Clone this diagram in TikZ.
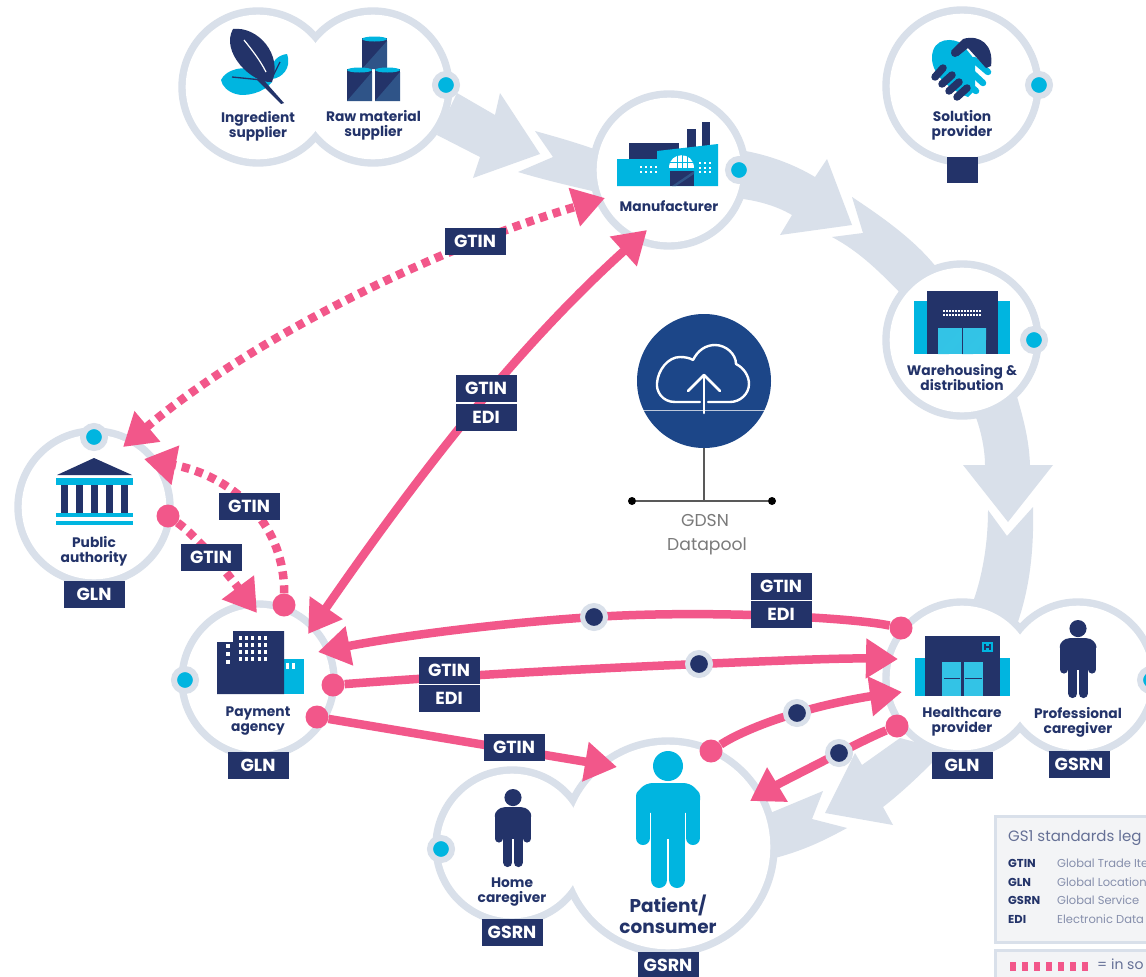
\documentclass[tikz,border=0pt]{standalone}
\usepackage{fontspec}
\setmainfont{Poppins}
\usetikzlibrary{arrows.meta}
\definecolor{navy}{HTML}{233369}
\definecolor{cyanx}{HTML}{00B5E0}
\definecolor{cyanl}{HTML}{33C3E6}
\definecolor{pinkx}{HTML}{F2578A}
\definecolor{grayx}{HTML}{D9E0EA}
\definecolor{steel}{HTML}{2F5488}
\definecolor{cloudb}{HTML}{1C4688}
\definecolor{legfill}{HTML}{F3F4F6}
\tikzset{
  hub/.style={circle,minimum size=152pt,inner sep=0pt,outer sep=0pt},
  lab/.style={align=center,text=navy,inner sep=0pt,font=\fontsize{13.8}{15}\selectfont\bfseries},
  tag/.style={fill=navy,text=white,minimum width=61pt,minimum height=27pt,inner sep=0pt,font=\fontsize{17.5}{17.5}\selectfont\bfseries},
  pinkline/.style={draw=pinkx,line width=8.5pt},
  dashline/.style={draw=pinkx,line width=8.5pt,dash pattern=on 8pt off 6pt},
  tipend/.style={-{Triangle[length=32pt,width=38pt]}},
  tipboth/.style={{Triangle[length=32pt,width=38pt]}-{Triangle[length=32pt,width=38pt]}},
  pinkdot/.style={circle,fill=pinkx,minimum size=23pt,inner sep=0pt},
  busdot/.style={circle,fill=navy,draw=grayx,line width=5pt,minimum size=23pt,inner sep=0pt},
  portdot/.style={circle,fill=cyanx,draw=grayx,line width=6pt,minimum size=22pt,inner sep=0pt},
  codetxt/.style={anchor=west,text=navy,inner sep=0pt,font=\fontsize{11.5}{12}\selectfont\bfseries},
  desctxt/.style={anchor=west,text=navy!55,inner sep=0pt,font=\fontsize{11.5}{12}\selectfont},
}
\newcommand{\personfig}[4]{%
  \begin{scope}[shift={(#1,#2)},scale=#3]
    \fill[#4] (0,15) circle (15);
    \fill[#4,rounded corners=#3*17pt] (-32,62)--(-32,32)--(32,32)--(32,62)--cycle;
    \fill[#4] (-17,45) rectangle (17,88);
    \draw[#4,line width=#3*14pt,line cap=round] (-25,45)--(-25,87);
    \draw[#4,line width=#3*14pt,line cap=round] (25,45)--(25,87);
    \draw[#4,line width=#3*16pt,line cap=round] (-9,85)--(-9,129);
    \draw[#4,line width=#3*16pt,line cap=round] (9,85)--(9,129);
  \end{scope}}
\newcommand{\drumfig}[4]{%
  \fill[navy] (#1,#2) rectangle (#1+#3,#2+#4);
  \fill[steel] (#1+#3,#2+3) -- (#1+#3,#2+#4) -- (#1,#2+#4) -- cycle;
  \fill[cyanx] (#1+#3/2,#2+1) ellipse ({#3/2} and 2.5);}
\begin{document}
\begin{tikzpicture}[x=1pt,y=-1pt]
\useasboundingbox (0,0) rectangle (1146,977);
\clip (0,0) rectangle (1146,977);
\fill[white] (0,0) rectangle (1146,977);

% ---- big grey flow arrows
\fill[grayx] (457,93) -- (495,115) -- (500,93) -- (540,154) -- (473,178) -- (480,157) -- (437,135) -- cycle;
\fill[grayx] (535,131) -- (553,157) -- (518,172) .. controls (545,180) and (570,186) .. (610,195) -- (610,155) .. controls (585,145) and (560,138) .. cycle;
\fill[grayx] (740,150) .. controls (770,155) and (795,165) .. (815,177) -- (827,159) -- (852,225) -- (780,235) -- (792,215) .. controls (775,205) and (755,200) .. (735,198) -- cycle;
\fill[grayx] (852,197) -- (863,233) -- (832,237) .. controls (860,252) and (880,272) .. (905,298) -- (940,272) .. controls (920,245) and (890,222) .. cycle;
\fill[grayx] (970,400) -- (1015,390) .. controls (1024,420) and (1029,440) .. (1030,465) -- (1053,465) -- (1008,522) -- (963,465) -- (985,465) .. controls (985,450) and (981,430) .. (975,415) -- cycle;
\fill[grayx] (988,510) -- (1007,536) -- (1033,507) .. controls (1034,550) and (1030,590) .. (1015,630) -- (970,610) .. controls (982,580) and (988,545) .. cycle;
\fill[grayx] (855,753) -- (862,765) -- (900,738) -- (945,750) .. controls (925,770) and (905,790) .. (883,807) -- (893,825) -- (825,813) -- cycle;
\fill[grayx] (823,791) -- (812,819) -- (847,828) .. controls (825,840) and (805,850) .. (775,858) -- (765,815) -- (775,811) -- cycle;

% ---- rings (merged outlines)
\foreach \cx/\cy/\rr in {258/87/76,373/87/76,669/170/76,962/86/76,962/340/76,94/507/76,258/680/76,962/678/76,1078/678/76,512/846/76,668/847/106}{
  \fill[grayx] (\cx,\cy) circle ({\rr+3.7});
}
\foreach \cx/\cy/\rr in {258/87/76,373/87/76,669/170/76,962/86/76,962/340/76,94/507/76,258/680/76,962/678/76,1078/678/76,512/846/76,668/847/106}{
  \fill[white] (\cx,\cy) circle ({\rr-3.7});
}
\node[hub] (ing) at (258,87) {};
\node[hub] (raw) at (373,87) {};
\node[hub] (man) at (669,170) {};
\node[hub] (sol) at (962,86) {};
\node[hub] (war) at (962,340) {};
\node[hub] (pub) at (94,507) {};
\node[hub] (pay) at (258,680) {};
\node[hub] (hea) at (962,678) {};
\node[hub] (pro) at (1078,678) {};
\node[hub] (hom) at (512,846) {};
\node[hub,minimum size=212pt] (pat) at (668,847) {};

% ---- cyan ports
\node[portdot] (p1) at (446,85) {};
\node[portdot] (p2) at (739,170) {};
\node[portdot] (p3) at (1039,85) {};
\node[portdot] (p4) at (1034,340) {};
\node[portdot] (p5) at (94,437) {};
\node[portdot] (p6) at (185,680) {};
\node[portdot] (p7) at (1151,680) {};
\node[portdot] (p8) at (441,849) {};

% ---- leaf icon
\fill[cyanx] (221,80) .. controls (226,69) and (245,65) .. (255,71) -- (272,82) .. controls (264,93) and (245,97) .. (236,94) .. controls (228,92) and (222,86) .. (221,80) -- cycle;
\fill[cyanx] (287,54) .. controls (278,55) and (270,62) .. (273,72) -- (272,79) .. controls (282,78) and (292,68) .. (287,54) -- cycle;
\fill[navy] (233,29) .. controls (258,26) and (283,55) .. (272,82) .. controls (252,84) and (220,52) .. (233,29) -- cycle;
\fill[navy] (260,76) -- (284,103) -- (281,104) -- (257,80) -- cycle;
\draw[navy,line width=1.3pt] (232,77) -- (262,80);
\draw[navy,line width=1.3pt] (272,78) -- (280,62);
\draw[white,line width=1.2pt] (244,40) .. controls (252,50) and (260,60) .. (266,72);

% ---- drums
\drumfig{362}{38}{25}{31}
\drumfig{347}{69}{25}{32}
\drumfig{375}{69}{25}{32}

% ---- factory
\fill[navy] (629,143) rectangle (679,162);
\fill[navy] (687,129) rectangle (696,150);
\fill[navy] (702,122) rectangle (710,150);
\fill[cyanx] (617,159) -- (657,159) -- (657,151) -- (718,144) -- (718,186) -- (617,186) -- cycle;
\fill[navy] (670,171) rectangle (694,186);
\fill[steel] (694,171) -- (694,174) -- (676,186) -- (672,186) -- cycle;
\fill[white] (669,168) .. controls (669,151) and (694,151) .. (694,168) -- cycle;
\draw[cyanx,line width=.8pt] (669,162)--(694,162) (677,155)--(677,168) (682,155)--(682,168) (687,155)--(687,168);
\foreach \wx in {641,646,651,656} \foreach \wy in {167,172} \fill[white] (\wx-1,\wy-1) rectangle (\wx+1,\wy+1);
\foreach \wx in {700,705,710} \foreach \wy in {163,168,172} \fill[white] (\wx-1,\wy-1) rectangle (\wx+1,\wy+1);

% ---- handshake
\fill[cyanx] (962,44) .. controls (955,38) and (932,36) .. (932,58) .. controls (932,75) and (950,90) .. (968,97) -- (975,90) -- (975,60) -- cycle;
\draw[cyanx,line width=6.5pt,line cap=round] (974,60) -- (988,72);
\draw[cyanx,line width=6.5pt,line cap=round] (969,70) -- (983,83);
\draw[cyanx,line width=6.5pt,line cap=round] (963,80) -- (976,91);
\fill[navy] (963,39) .. controls (980,34) and (994,45) .. (991,66) -- (986,68) -- (968,48) -- (958,56) -- (951,51) -- cycle;
\draw[navy,line width=8pt,line cap=round] (955,53) -- (964,44);
\draw[navy,line width=7.5pt,line cap=round] (935,77) -- (943,68);
\draw[navy,line width=7.5pt,line cap=round] (942,84) -- (952,75);
\draw[navy,line width=7.5pt,line cap=round] (949,91) -- (959,82);
\draw[navy,line width=7.5pt,line cap=round] (957,97) -- (967,88);

% ---- warehouse
\fill[cyanx] (914,301) rectangle (1010,354);
\fill[navy] (927,291) rectangle (998,354);
\fill[cyanl] (938,328) rectangle (986,354);
\fill[cyanx!80!white] (938,354) -- (962,328) -- (962,340) -- (949,354) -- cycle;
\fill[cyanx!80!white] (962,354) -- (986,328) -- (986,340) -- (973,354) -- cycle;
\draw[navy,line width=.5pt] (962,328) -- (962,354);
\foreach \wx in {944,947,...,980} \foreach \wy in {311,315} \fill[white] (\wx-1,\wy-1) rectangle (\wx+1,\wy+1);

% ---- temple
\fill[navy] (57,475) -- (94,458) -- (132,475) -- cycle;
\fill[cyanx] (56,478) rectangle (133,485);
\foreach \cxa in {61,76,91,106,121} \fill[navy] (\cxa,485) rectangle (\cxa+7,513);
\fill[cyanx] (56,513) rectangle (133,517);
\fill[cyanx] (56,521) rectangle (133,525);

% ---- office building
\fill[cyanx] (284,659) rectangle (304,694);
\fill[navy] (217,642) -- (233,642) -- (233,631) -- (284,631) -- (284,694) -- (217,694) -- cycle;
\foreach \wx in {240,246,252,259,265} \foreach \wy in {638,645,652,659} \fill[white] (\wx-1.5,\wy-2.2) rectangle (\wx+1.5,\wy+2.2);
\foreach \wy in {646,654,662} \fill[white] (226,\wy-2.2) rectangle (230,\wy+2.2);
\fill[white] (286,663) rectangle (289,669);
\fill[white] (292,663) rectangle (295,669);

% ---- hospital
\fill[cyanx] (915,658) rectangle (1010,696);
\fill[navy] (925,636) rectangle (1000,696);
\fill[cyanl] (942,662) rectangle (961,696);
\fill[cyanl] (964,662) rectangle (983,696);
\draw[navy,line width=.7pt] (944,678) -- (960,678) (965,678) -- (982,678);
\fill[cyanx] (982,642) rectangle (993,652);
\draw[navy,line width=1.2pt] (985,644) -- (985,650) (990,644) -- (990,650) (985,647) -- (990,647);

% ---- people
\personfig{668}{751}{1}{cyanx}
\personfig{513}{789}{0.57}{navy}
\personfig{1078}{620}{0.57}{navy}

% ---- GDSN
\node[circle,fill=cloudb,minimum size=134pt,inner sep=0pt] (gd) at (704,381) {};
\draw[white,line width=2.4pt,line cap=round,line join=round] (700,402) -- (675,402) .. controls (662,402) and (656,391) .. (657,383) .. controls (658,370) and (668,357) .. (680,357) .. controls (685,357) and (690,358) .. (693,360) .. controls (698,350) and (706,345) .. (715,345) .. controls (726,345) and (736,354) .. (736,364) .. controls (744,368) and (749,376) .. (749,384) .. controls (749,394) and (740,402) .. (730,402) -- (708,402);
\draw[white,line width=2.6pt,line cap=round,line join=round] (704,413) -- (704,375);
\draw[white,line width=2.6pt,line cap=round,line join=round] (688,391) -- (704,375) -- (720,391);
\draw[white,line width=.5pt,opacity=.7] (643,410) -- (765,410);
\node[circle,fill=black,minimum size=8pt,inner sep=0pt] (gl) at (632,501) {};
\node[circle,fill=black,minimum size=8pt,inner sep=0pt] (gr) at (772,501) {};
\coordinate (gm) at (704,501);
\draw[black!65,line width=1.5pt] (gl) -- (gr);
\draw[black!65,line width=1.2pt] (gd) -- (gm);
\node[text=black!52,inner sep=0pt,font=\fontsize{17.2}{18}\selectfont] (gt1) at (705,520) {GDSN};
\node[text=black!52,inner sep=0pt,font=\fontsize{17.2}{18}\selectfont] (gt2) at (707,546) {Datapool};

% ---- connector ends
\coordinate (tManE) at (605,198);
\coordinate (tManS) at (647,230);
\coordinate (tPubA) at (123,447);
\coordinate (tPubB) at (144,459);
\coordinate (tPayN) at (308,634);
\coordinate (tPayE) at (318,652);
\coordinate (tPayT) at (257,613);
\coordinate (tHeaA) at (898,659);
\coordinate (tHeaB) at (902,692);
\coordinate (tPatA) at (617,767);
\coordinate (tPatB) at (750,801);
\coordinate (mA) at (594,617);
\coordinate (mB) at (699,664);
\coordinate (mD) at (797,713);
\coordinate (mE) at (839,753);

\node[pinkdot] (dPayN) at (284,605) {};
\node[pinkdot] (dPub) at (168,516) {};
\node[pinkdot] (dHeaT) at (901,628) {};
\node[pinkdot] (dPayM) at (333,685) {};
\node[pinkdot] (dPayL) at (317,717) {};
\node[pinkdot] (dPat) at (711,751) {};
\node[pinkdot] (dHeaL) at (897,726) {};

\draw[dashline,tipboth] (tPubA) .. controls (250,340) and (430,250) .. (tManE);
\draw[pinkline,tipboth] (tManS) .. controls (520,345) and (425,465) .. (tPayN);
\draw[dashline,tipend] (dPayN) .. controls (285,530) and (240,478) .. (tPubB);
\draw[dashline,tipend] (dPub) .. controls (195,535) and (225,570) .. (tPayT);
\draw[pinkline,tipend] (dHeaT) .. controls (850,617) and (700,610) .. (mA) .. controls (500,623) and (400,636) .. (tPayE);
\draw[pinkline,tipend] (dPayM) .. controls (450,676) and (600,668) .. (mB) .. controls (770,661) and (840,658) .. (tHeaA);
\draw[pinkline,tipend] (dPayL) -- (tPatA);
\draw[pinkline,tipend] (dPat) .. controls (735,735) and (765,722) .. (mD) .. controls (830,703) and (865,697) .. (tHeaB);
\draw[pinkline,tipend] (dHeaL) .. controls (875,735) and (855,745) .. (mE) .. controls (810,768) and (780,783) .. (tPatB);
\node[busdot] (bA) at (mA) {};
\node[busdot] (bB) at (mB) {};
\node[busdot] (bD) at (mD) {};
\node[busdot] (bE) at (mE) {};

% ---- tags
\node[tag] (t1) at (475,241) {GTIN};
\node[tag] (t2) at (486,388) {GTIN};
\node[tag] (t3) at (486,417) {EDI};
\node[tag] (t4) at (249,506.5) {GTIN};
\node[tag] (t5) at (211,557) {GTIN};
\node[tag] (t6) at (94,594) {GLN};
\node[tag] (t7) at (258,765) {GLN};
\node[tag] (t8) at (781,586) {GTIN};
\node[tag] (t9) at (781,614) {EDI};
\node[tag] (t10) at (449,670) {GTIN};
\node[tag] (t11) at (449,698) {EDI};
\node[tag] (t12) at (514,747) {GTIN};
\node[tag] (t13) at (962,765) {GLN};
\node[tag] (t14) at (1079,764) {GSRN};
\node[tag] (t15) at (512,932) {GSRN};
\node[tag] (t16) at (668,965) {GSRN};
\node[fill=navy,minimum width=31pt,minimum height=26pt,inner sep=0pt] (t17) at (962.5,170) {};

% ---- labels
\node[lab] (l1) at (258,126) {Ingredient\\supplier};
\node[lab] (l2) at (373.5,125) {Raw material\\supplier};
\node[lab] (l3) at (669,206) {Manufacturer};
\node[lab] (l4) at (962,125) {Solution\\provider};
\node[lab] (l5) at (962,378) {Warehousing \&\\distribution};
\node[lab] (l6) at (94,551.5) {Public\\authority};
\node[lab] (l7) at (258,721.5) {Payment\\agency};
\node[lab] (l8) at (962,722) {Healthcare\\provider};
\node[lab] (l9) at (1078,722.5) {Professional\\caregiver};
\node[lab] (l10) at (512,892) {Home\\caregiver};
\node[lab,font=\fontsize{18.5}{21}\selectfont\bfseries] (l11) at (668,914.5) {Patient/\\consumer};

% ---- legend
\draw[fill=legfill,draw=grayx,line width=3pt] (995,816) rectangle (1160,942);
\draw[fill=legfill,draw=grayx,line width=3pt] (995,950) rectangle (1160,990);
\node[anchor=west,text=navy!70,inner sep=0pt,font=\fontsize{15}{16}\selectfont] (lt) at (1008,838) {GS1 standards leg};
\node[codetxt] (c1) at (1008,863) {GTIN};
\node[codetxt] (c2) at (1008,882) {GLN};
\node[codetxt] (c3) at (1008,900) {GSRN};
\node[codetxt] (c4) at (1008,919) {EDI};
\node[desctxt] (e1) at (1057,863) {Global Trade Ite};
\node[desctxt] (e2) at (1057,882) {Global Location};
\node[desctxt] (e3) at (1057,900) {Global Service};
\node[desctxt] (e4) at (1057,919) {Electronic Data};
\foreach \dx in {1010,1022,1034,1046,1058,1070,1082} \fill[pinkx] (\dx,961.5) rectangle (\dx+6,971);
\node[anchor=west,text=navy!70,inner sep=0pt,font=\fontsize{14}{15}\selectfont] (lg) at (1097,964) {= in so};
\end{tikzpicture}
\end{document}
